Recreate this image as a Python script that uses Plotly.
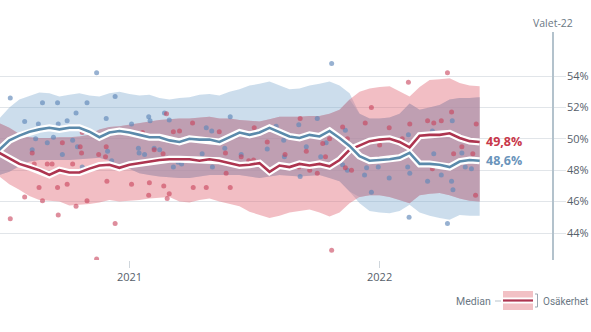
import pandas as pd
import plotly.graph_objects as go

# ---------------- data ----------------
# median / band series, sampled on an even date grid
series_dates = pd.date_range("2020-06-25", "2022-05-27", periods=49)

blue_median = [49.3, 49.9, 50.2, 50.45, 50.6, 50.7, 50.6, 50.7, 50.7, 50.45,
               50.1, 50.4, 50.5, 50.4, 50.25, 50.1, 50.1, 49.9, 49.8, 50.0,
               49.95, 49.95, 49.8, 50.1, 50.4, 50.25, 50.4, 50.7, 50.4, 50.15,
               50.05, 50.25, 50.15, 50.5, 50.05, 49.55, 48.9, 48.6, 48.65, 48.7,
               48.8, 49.1, 48.4, 48.4, 48.35, 48.2, 48.55, 48.65, 48.6]
red_median = [49.1, 48.75, 48.4, 48.2, 48.0, 47.7, 48.0, 47.85, 47.85, 48.1,
              48.3, 48.35, 48.15, 48.35, 48.45, 48.55, 48.65, 48.7, 48.7, 48.7,
              48.6, 48.7, 48.6, 48.45, 48.3, 48.35, 48.45, 47.9, 48.3, 48.2,
              48.4, 48.3, 48.4, 48.25, 48.65, 49.3, 49.6, 49.85, 49.95, 50.0,
              49.8, 49.45, 50.2, 50.25, 50.25, 50.35, 50.05, 49.85, 49.8]
blue_upper = [51.3, 52.0, 52.5, 52.75, 52.95, 52.9, 52.7, 52.8, 52.9, 52.75,
              52.7, 52.9, 53.0, 52.85, 52.75, 52.8, 52.6, 52.5, 52.6, 52.65,
              52.8, 52.85, 52.75, 53.0, 53.15, 53.4, 53.5, 53.65, 53.4, 53.15,
              53.2, 53.4, 53.5, 53.65, 53.4, 52.9, 51.6, 51.3, 51.3, 51.35,
              51.6, 52.25, 51.85, 52.0, 52.15, 52.5, 52.6, 52.6, 52.65]
blue_lower = [47.7, 47.9, 48.25, 48.55, 48.65, 48.65, 48.65, 48.65, 48.7, 48.75,
              48.8, 48.6, 48.3, 48.1, 47.8, 47.7, 47.6, 47.55, 47.5, 47.5,
              47.6, 47.7, 47.7, 47.7, 47.7, 47.6, 47.5, 47.6, 47.7, 47.65,
              47.6, 47.65, 47.7, 47.5, 47.3, 46.65, 45.9, 45.4, 45.3, 45.25,
              45.4, 45.8, 45.3, 45.1, 44.95, 44.85, 45.15, 45.1, 45.1]
red_upper = [51.0, 50.7, 50.3, 50.1, 50.05, 50.05, 50.1, 50.1, 50.15, 50.25,
             50.6, 50.75, 50.8, 50.9, 51.0, 51.1, 51.2, 51.25, 51.3, 51.3,
             51.35, 51.4, 51.3, 51.3, 51.2, 51.15, 51.1, 51.25, 51.4, 51.4,
             51.4, 51.45, 51.45, 51.6, 51.85, 52.5, 53.0, 53.2, 53.3, 53.35,
             53.0, 52.7, 53.3, 53.75, 53.8, 53.85, 53.55, 53.4, 53.35]
red_lower = [47.6, 47.1, 46.75, 46.35, 46.1, 46.05, 46.0, 45.75, 45.8, 45.85,
             45.95, 46.1, 46.0, 46.05, 46.1, 46.2, 46.25, 46.3, 46.0, 45.95,
             46.1, 46.2, 46.0, 45.85, 45.7, 45.35, 45.15, 44.95, 45.1, 45.3,
             45.4, 45.5, 45.3, 45.05, 45.3, 45.9, 46.3, 46.4, 46.4, 46.3,
             46.1, 45.9, 46.4, 46.5, 46.55, 46.4, 46.2, 46.05, 46.0]

# individual polls
blue_poll_dates = [
    "2020-11-14", "2020-07-11", "2020-08-27", "2020-09-18", "2020-10-31", "2020-12-11",
    "2020-10-15", "2020-08-01", "2020-08-21", "2020-09-19", "2020-10-02", "2020-11-28",
    "2020-08-17", "2020-09-12", "2020-10-10", "2020-09-03", "2020-10-17", "2020-08-12",
    "2020-09-25", "2020-11-30", "2020-12-06", "2020-10-24",
    "2021-01-04", "2021-01-29", "2021-01-31", "2021-02-21", "2021-02-28", "2021-04-23",
    "2021-05-01", "2021-05-28", "2021-01-14", "2021-01-15", "2021-01-23", "2021-02-06",
    "2021-02-14", "2021-04-17", "2021-05-20", "2021-03-13", "2021-03-18", "2021-03-06",
    "2021-05-02",
    "2021-10-23", "2021-09-05", "2021-10-02", "2021-08-03", "2021-11-12", "2021-10-15",
    "2021-08-14", "2021-09-16", "2021-07-21", "2021-06-13", "2021-08-15", "2021-10-07",
    "2021-11-08", "2021-11-15", "2021-09-07",
    "2022-04-17", "2022-03-19", "2022-02-12", "2022-05-01", "2022-03-21", "2021-12-13",
    "2021-12-10", "2021-12-30", "2022-01-15", "2022-02-11", "2022-02-14", "2022-03-12",
    "2022-04-01", "2022-04-16", "2022-04-18", "2022-05-06", "2022-05-15", "2021-12-20",
    "2022-02-13", "2022-04-10",
]
blue_poll_values = [
    54.2, 52.6, 52.3, 52.3, 52.3, 52.7,
    51.65, 51.1, 50.95, 50.95, 51.15, 51.3,
    50.0, 50.1, 49.9, 49.75, 49.5, 49.3,
    49.0, 49.2, 48.6, 48.2,
    50.95, 51.4, 51.15, 51.65, 51.2, 50.7,
    50.5, 51.4, 49.4, 49.1, 49.0, 49.4,
    49.3, 49.05, 49.4, 48.5, 48.4, 48.2,
    48.2,
    54.8, 50.9, 51.3, 50.8, 50.55, 49.75,
    49.9, 49.5, 49.35, 49.0, 48.85, 48.85,
    48.35, 48.0, 47.6,
    51.15, 50.5, 50.25, 49.1, 49.05, 48.15,
    47.7, 48.2, 47.5, 48.2, 47.8, 47.3,
    47.7, 47.3, 46.75, 48.2, 48.1, 46.6,
    45.0, 44.6,
]
red_poll_dates = [
    "2020-10-24", "2020-09-25", "2020-10-23", "2020-08-12", "2020-11-17", "2020-11-28",
    "2020-11-27", "2020-08-15", "2020-09-03", "2020-09-10", "2020-10-10", "2020-08-22",
    "2020-09-18", "2020-10-02", "2020-11-29", "2020-08-01", "2020-08-27", "2020-10-15",
    "2020-10-31", "2020-07-11", "2020-09-19", "2020-12-11", "2020-11-14", "2020-10-21",
    "2021-02-24", "2021-04-03", "2021-05-12", "2021-01-20", "2021-03-06", "2021-03-15",
    "2021-02-06", "2021-02-19", "2021-05-21", "2021-05-22", "2021-01-04", "2021-01-30",
    "2021-02-20", "2021-04-04", "2021-04-23", "2021-05-28", "2021-01-29", "2021-02-28",
    "2021-02-25",
    "2021-09-07", "2021-07-02", "2021-11-08", "2021-11-15", "2021-10-20", "2021-07-21",
    "2021-09-16", "2021-10-10", "2021-06-13", "2021-08-16", "2021-10-14", "2021-06-24",
    "2021-07-01", "2021-09-05", "2021-09-21", "2021-10-02", "2021-11-12", "2021-11-21",
    "2021-10-23",
    "2022-04-10", "2022-02-12", "2021-12-20", "2021-12-11", "2022-01-15", "2022-02-14",
    "2022-03-12", "2022-03-21", "2022-04-01", "2022-04-16", "2022-05-22", "2022-02-03",
    "2022-01-01", "2022-05-01", "2022-05-17", "2022-04-19", "2022-03-19", "2022-05-21",
]
red_poll_values = [
    50.4, 49.75, 49.1, 49.1, 49.0, 49.5,
    48.85, 48.4, 48.4, 48.4, 48.4, 46.9,
    46.9, 47.1, 47.3, 46.3, 46.05, 45.7,
    46.05, 44.9, 45.15, 44.6, 42.35, 49.5,
    51.6, 51.0, 50.45, 50.4, 50.45, 50.5,
    49.3, 49.05, 49.1, 47.8, 47.1, 47.2,
    47.0, 46.9, 46.9, 46.9, 46.4, 46.5,
    46.2,
    51.3, 50.7, 50.75, 50.0, 50.0, 49.8,
    49.2, 49.7, 48.85, 49.0, 48.85, 48.6,
    48.65, 48.2, 48.0, 47.8, 48.15, 48.0,
    42.9,
    54.2, 53.6, 52.0, 51.0, 50.7, 50.95,
    51.15, 51.0, 51.15, 51.7, 50.95, 50.0,
    49.6, 49.5, 49.05, 49.05, 48.1, 46.4,
]

y_ticks = [44, 46, 48, 50, 52, 54]
y_tick_text = [f"{v}%" for v in y_ticks]
x_ticks = ["2021-01-01", "2022-01-01"]
x_tick_text = ["2021", "2022"]
election_date = "2022-09-11"
election_label = "Valet-22"
legend_median = "Median"
legend_band = "Osäkerhet"

# ---------------- style ----------------
BLUE_LINE = "#5b8aab"
RED_LINE = "#ad3550"
BLUE_FILL = "rgba(120,165,205,0.38)"
RED_FILL = "rgba(225,100,115,0.42)"
OVERLAP_FILL = "rgba(170,148,172,0.5)"
BLUE_DOT = "rgba(95,135,185,0.65)"
RED_DOT = "rgba(200,65,90,0.6)"
TEXT = "#6b7884"
FONT = "Open Sans"
LEG_FONT = "Roboto"

W, H = 591, 332
ML, MR, MT, MB = 0, 25, 30, 72
PW, PH = W - ML - MR, H - MT - MB


def px(x):
    return (x - ML) / PW


def py(y):
    return (H - MB - y) / PH


fig = go.Figure()


def band(lower, upper, fill):
    fig.add_trace(go.Scatter(x=series_dates, y=lower, mode="lines",
                             line=dict(width=0), hoverinfo="skip"))
    fig.add_trace(go.Scatter(x=series_dates, y=upper, mode="lines",
                             line=dict(width=0), fill="tonexty",
                             fillcolor=fill, hoverinfo="skip"))


band(blue_lower, blue_upper, BLUE_FILL)
band(red_lower, red_upper, RED_FILL)
# darken the region where both uncertainty bands overlap (multiply-like look)
ov_lower = [max(a, b) for a, b in zip(blue_lower, red_lower)]
ov_upper = [max(lo, min(a, b)) for lo, a, b in zip(ov_lower, blue_upper, red_upper)]
band(ov_lower, ov_upper, OVERLAP_FILL)

fig.add_trace(go.Scatter(x=pd.to_datetime(blue_poll_dates), y=blue_poll_values,
                         mode="markers", marker=dict(size=5, color=BLUE_DOT)))
fig.add_trace(go.Scatter(x=pd.to_datetime(red_poll_dates), y=red_poll_values,
                         mode="markers", marker=dict(size=5, color=RED_DOT)))

for vals, col in [(red_median, RED_LINE), (blue_median, BLUE_LINE)]:
    fig.add_trace(go.Scatter(x=series_dates, y=vals, mode="lines",
                             line=dict(color="white", width=7)))
    fig.add_trace(go.Scatter(x=series_dates, y=vals, mode="lines",
                             line=dict(color=col, width=2.6)))

annotations = []
for vals, col in [(red_median, "#c8374a"), (blue_median, "#6a94bb")]:
    annotations.append(dict(
        x=series_dates[-1], y=vals[-1], xref="x", yref="y",
        text="<b>" + f"{vals[-1]:.1f}".replace(".", ",") + "%</b>",
        showarrow=False, xanchor="left", yanchor="middle", xshift=4,
        font=dict(size=12.5, color=col, family=FONT)))

annotations.append(dict(x=election_date, y=py(23), xref="x", yref="paper",
                        text=election_label, showarrow=False,
                        xanchor="center", yanchor="middle",
                        font=dict(size=10.5, color=TEXT, family=FONT)))

# legend (drawn manually)
annotations.append(dict(x=px(493), y=py(301), xref="paper", yref="paper",
                        text=legend_median, showarrow=False,
                        xanchor="right", yanchor="middle",
                        font=dict(size=10.5, color=TEXT, family=LEG_FONT)))
annotations.append(dict(x=px(590), y=py(301), xref="paper", yref="paper",
                        text=legend_band, showarrow=False,
                        xanchor="right", yanchor="middle",
                        font=dict(size=10, color=TEXT, family=LEG_FONT)))

shapes = [
    dict(type="line", xref="x", yref="paper", x0=election_date, x1=election_date,
         y0=0, y1=py(32), line=dict(color="#b3c2cc", width=2)),
    dict(type="line", xref="paper", yref="paper", x0=px(495), x1=px(501),
         y0=py(301), y1=py(301), line=dict(color="#b9c3cb", width=1)),
    dict(type="rect", xref="paper", yref="paper", x0=px(503), x1=px(533),
         y0=py(310), y1=py(291), fillcolor="rgba(235,160,166,0.65)", line=dict(width=0)),
    dict(type="line", xref="paper", yref="paper", x0=px(503), x1=px(533),
         y0=py(300.5), y1=py(300.5), line=dict(color="white", width=6)),
    dict(type="line", xref="paper", yref="paper", x0=px(503), x1=px(533),
         y0=py(300.5), y1=py(300.5), line=dict(color=RED_LINE, width=2.2)),
    dict(type="path", xref="paper", yref="paper",
         path=f"M {px(535)} {py(294)} L {px(537.5)} {py(294)} L {px(537.5)} {py(307)} L {px(535)} {py(307)}",
         line=dict(color="#9aa6b0", width=1)),
]

fig.update_layout(
    width=W, height=H,
    margin=dict(l=ML, r=MR, t=MT, b=MB),
    plot_bgcolor="white", paper_bgcolor="white",
    showlegend=False,
    font=dict(family=FONT, color=TEXT),
    annotations=annotations, shapes=shapes,
    xaxis=dict(type="date", range=["2020-06-26", "2022-09-30"],
               tickvals=x_ticks, ticktext=x_tick_text,
               ticks="outside", ticklen=7, tickcolor="#cfd6dc", tickwidth=1,
               showgrid=False, zeroline=False, showline=False,
               tickfont=dict(size=11, color="#56606a")),
    yaxis=dict(range=[42.28, 56.93], side="right",
               tickvals=y_ticks, ticktext=y_tick_text,
               gridcolor="#e1e5e9", gridwidth=1, zeroline=False, showline=False,
               ticks="", tickfont=dict(size=11, color="#56606a")),
)

fig.write_html("out.html")
